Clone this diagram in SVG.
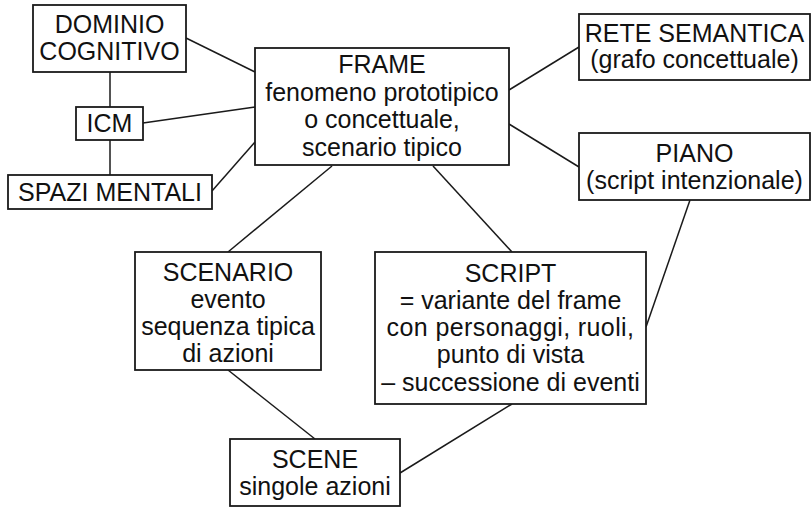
<svg xmlns="http://www.w3.org/2000/svg" width="812" height="507" viewBox="0 0 812 507">
<style>
.box{fill:#fff;stroke:#1a1a1a;stroke-width:1.8}
.ln{stroke:#1a1a1a;stroke-width:1.5;fill:none}
text{font-family:"Liberation Sans",Arial,sans-serif;font-size:25px;fill:#111;text-anchor:middle}
</style>
<rect width="812" height="507" fill="#fff"/>
<g id="connectors">
<line class="ln" x1="110" y1="72" x2="110" y2="107"/>
<line class="ln" x1="110" y1="140" x2="110" y2="175"/>
<line class="ln" x1="186" y1="38" x2="255" y2="72"/>
<line class="ln" x1="143" y1="123" x2="255" y2="107"/>
<line class="ln" x1="212" y1="191" x2="255" y2="142"/>
<line class="ln" x1="509" y1="90" x2="579" y2="47"/>
<line class="ln" x1="509" y1="124" x2="579" y2="167"/>
<line class="ln" x1="332" y1="166" x2="228" y2="252"/>
<line class="ln" x1="433" y1="166" x2="512" y2="252"/>
<line class="ln" x1="690" y1="200" x2="646" y2="327"/>
<line class="ln" x1="228" y1="370" x2="315" y2="439"/>
<line class="ln" x1="512" y1="404" x2="400" y2="473"/>
</g>
<g id="dominio"><rect class="box" x="33" y="5" width="153" height="67"/><text x="109.5" y="33">DOMINIO</text><text x="109.5" y="60">COGNITIVO</text></g>
<g id="icm"><rect class="box" x="76" y="107" width="67" height="33"/><text x="109.5" y="132">ICM</text></g>
<g id="spazi"><rect class="box" x="8" y="175" width="204" height="34"/><text x="110" y="201">SPAZI MENTALI</text></g>
<g id="frame"><rect class="box" x="255" y="48" width="254" height="117"/><text x="382" y="73">FRAME</text><text x="382" y="101">fenomeno prototipico</text><text x="382" y="128">o concettuale,</text><text x="382" y="156">scenario tipico</text></g>
<g id="rete"><rect class="box" x="579" y="14" width="231" height="66"/><text x="694.5" y="42">RETE SEMANTICA</text><text x="694.5" y="68">(grafo concettuale)</text></g>
<g id="piano"><rect class="box" x="579" y="133" width="231" height="67"/><text x="694.5" y="162">PIANO</text><text x="694.5" y="189">(script intenzionale)</text></g>
<g id="scenario"><rect class="box" x="135" y="252" width="186" height="118"/><text x="228" y="281">SCENARIO</text><text x="228" y="308">evento</text><text x="228" y="335">sequenza tipica</text><text x="228" y="362">di azioni</text></g>
<g id="script"><rect class="box" x="375" y="252" width="271" height="152"/><text x="510.5" y="282">SCRIPT</text><text x="510.5" y="309">= variante del frame</text><text x="510.5" y="336" letter-spacing="0.4">con personaggi, ruoli,</text><text x="510.5" y="363">punto di vista</text><text x="510.5" y="391">– successione di eventi</text></g>
<g id="scene"><rect class="box" x="230" y="439" width="170" height="67"/><text x="315" y="468">SCENE</text><text x="315" y="495">singole azioni</text></g>
</svg>
